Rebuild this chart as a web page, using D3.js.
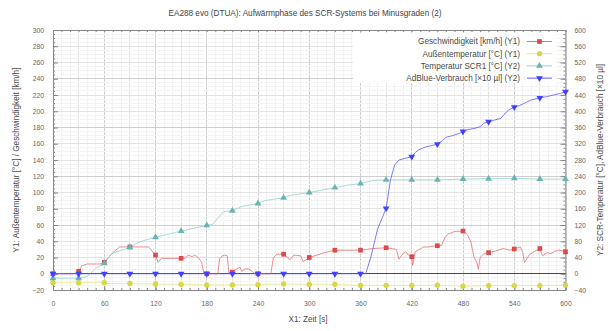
<!DOCTYPE html>
<html>
<head>
<meta charset="utf-8">
<script src="https://cdn.jsdelivr.net/npm/d3@7"></script>
<style>
  html, body { margin: 0; padding: 0; background: #fff; }
  svg { display: block; font-family: "Liberation Sans", Arial, sans-serif; }
</style>
</head>
<body>
<svg id="chart" width="611" height="331"></svg>
<script>
// Time axis ticks [s]
const xTicks = [0, 60, 120, 180, 240, 300, 360, 420, 480, 540, 600];
const y1Ticks = [-20, 0, 20, 40, 60, 80, 100, 120, 140, 160, 180, 200, 220, 240, 260, 280, 300];
const y2Ticks = [-40, 0, 40, 80, 120, 160, 200, 240, 280, 320, 360, 400, 440, 480, 520, 560, 600];

// Geschwindigkeit [km/h] (Y1): [t, v]
const speed = [
  [0,0],[28,0],[30,3],[34,10],[40,12],[55,12],[60,14],[65,20],[70,26],[78,33],[90,33],[112,33],
  [116,28],[120,23],[123,14],[127,19],[150,19],[155,19],[158,23],[163,21],[166,23],[170,20],
  [174,14],[177,0],[180,0],[193,0],[195,18],[198,22],[201,23],[204,22],[206,0],[210,2],[213,5],
  [217,7],[219,8],[221,3],[225,6],[229,6],[233,3],[236,0],[240,0],[255,0],[258,20],[262,24],
  [270,24],[275,20],[277,17],[282,23],[290,22],[293,15],[296,17],[300,20],[309,23],[318,26],
  [330,29],[344,29],[360,29],[374,31],[390,32],[402,30],[405,18],[410,25],[413,27],[416,23],
  [420,21],[421,10],[424,27],[434,33],[440,33],[450,34.5],[455,35],[459,45],[463,49],[470,52],
  [480,52.6],[485,48],[489,40],[493,20],[496,15],[498,5.5],[500,20],[504,24],[510,26],[518,28],
  [527,31],[535,29],[540,30.5],[547,33],[550,26],[552,14],[558,24],[570,31],[573,22],[578,26],
  [583,25],[588,28],[593,29],[600,27]
];

// Außentemperatur [°C] (Y1)
const outside = [
  [0,-11],[30,-11],[60,-11],[62,-12],[90,-12],[120,-12.6],[150,-13],[180,-13.7],[210,-13.7],
  [240,-13.5],[270,-12.5],[300,-13],[330,-13],[360,-14.2],[390,-14.2],[420,-14.2],[450,-14],
  [480,-15.3],[510,-14.6],[540,-14.6],[570,-14.6],[600,-14]
];

// Temperatur SCR1 [°C] (Y2)
const scr = [
  [0,-11],[30,-11],[40,-7],[50,13],[60,26],[69,50],[90,65],[102,79],[120,90],[150,105],[180,119],
  [187,122],[194,140],[200,153],[210,155],[220,165],[240,173],[248,180],[270,187],[276,192],
  [300,200],[330,212],[345,218],[360,222],[375,230],[390,231],[420,231],[450,231],[480,233],
  [510,234],[540,235],[570,233],[600,233]
];

// AdBlue-Verbrauch [×10 µl] (Y2)
const adblue = [
  [0,0],[30,0],[60,0],[90,0],[120,0],[150,0],[180,0],[210,0],[240,0],[270,0],[300,0],[330,0],
  [360,0],[366,0],[372,40],[380,110],[390,161],[395,230],[400,268],[405,280],[412,284],[420,288],
  [424,298],[428,305],[436,312],[444,316],[450,319],[456,328],[460,336],[468,340],[476,346],
  [480,350],[486,355],[494,358],[500,362],[504,370],[510,374],[516,378],[524,382],[528,392],
  [534,404],[540,410],[546,414],[552,420],[560,428],[570,433],[578,436],[586,440],[594,444],[600,448]
];

const legendLabels = [
  "Geschwindigkeit [km/h] (Y1)",
  "Außentemperatur [°C] (Y1)",
  "Temperatur SCR1 [°C] (Y2)",
  "AdBlue-Verbrauch [×10 µl] (Y2)"
];

const svg = d3.select("#chart");
const L = 53, R = 565.5, T = 30, B = 290;

const x = d3.scaleLinear().domain([0, 600]).range([L, R]);
const y1 = d3.scaleLinear().domain([-20, 300]).range([B, T]);
const y2 = d3.scaleLinear().domain([-40, 600]).range([B, T]);

// Grid
const grid = svg.append("g");
grid.selectAll(".vmin").data(d3.range(0, 601, 10)).join("line")
  .attr("x1", d => x(d)).attr("x2", d => x(d)).attr("y1", T).attr("y2", B)
  .attr("stroke", d => d % 60 === 0 ? "#cfcfcf" : (d % 30 === 0 ? "#e4e4e4" : "#f2f2f2"))
  .attr("stroke-width", 1).attr("shape-rendering", "crispEdges");
grid.selectAll(".hmin").data(d3.range(-20, 301, 5)).join("line")
  .attr("x1", L).attr("x2", R).attr("y1", d => y1(d)).attr("y2", d => y1(d))
  .attr("stroke", d => d % 60 === 0 ? "#cfcfcf" : (d % 20 === 0 ? "#e2e2e2" : "#f4f4f4"))
  .attr("stroke-width", 1).attr("shape-rendering", "crispEdges");

// Zero line
svg.append("line").attr("x1", L).attr("x2", R).attr("y1", y1(0)).attr("y2", y1(0))
  .attr("stroke", "#44445e").attr("stroke-width", 1).attr("shape-rendering", "crispEdges");

// Axes
const tickStyle = g => {
  g.select(".domain").attr("stroke", "#888");
  g.selectAll(".tick line").attr("stroke", "#888");
  g.selectAll(".tick text").attr("fill", "#666").attr("font-size", "6.8px");
};

svg.append("g").attr("transform", `translate(0,${B})`)
  .call(d3.axisBottom(x).tickValues(xTicks).tickSize(-4).tickPadding(11))
  .call(tickStyle);
svg.append("g").attr("transform", `translate(0,${B})`)
  .call(d3.axisBottom(x).tickValues(d3.range(0, 601, 10)).tickSize(-2).tickFormat(""))
  .call(g => g.select(".domain").remove())
  .call(g => g.selectAll("line").attr("stroke", "#888"));
svg.append("g").attr("transform", `translate(0,${T})`)
  .call(d3.axisTop(x).tickValues(d3.range(0, 601, 10)).tickSize(-2).tickFormat(""))
  .call(g => g.select(".domain").attr("stroke", "#888"))
  .call(g => g.selectAll("line").attr("stroke", "#888"));

svg.append("g").attr("transform", `translate(${L},0)`)
  .call(d3.axisLeft(y1).tickValues(y1Ticks).tickSize(-5).tickPadding(9))
  .call(tickStyle);
svg.append("g").attr("transform", `translate(${L},0)`)
  .call(d3.axisLeft(y1).tickValues(d3.range(-20, 301, 5)).tickSize(-2).tickFormat(""))
  .call(g => g.select(".domain").remove())
  .call(g => g.selectAll("line").attr("stroke", "#888"));

svg.append("g").attr("transform", `translate(${R},0)`)
  .call(d3.axisRight(y2).tickValues(y2Ticks).tickSize(-5).tickPadding(9))
  .call(tickStyle);
svg.append("g").attr("transform", `translate(${R},0)`)
  .call(d3.axisRight(y2).tickValues(d3.range(-40, 601, 10)).tickSize(-2).tickFormat(""))
  .call(g => g.select(".domain").remove())
  .call(g => g.selectAll("line").attr("stroke", "#888"));

// Series
const series = [
  { data: speed, y: y1, line: "#e87070", mark: "#dc4a4a", sym: d3.symbolSquare, size: 22 },
  { data: outside, y: y1, line: "#e6e690", mark: "#d6d646", sym: d3.symbolCircle, size: 22 },
  { data: scr, y: y2, line: "#94d0d0", mark: "#68b4b4", sym: d3.symbolTriangle, size: 20 },
  { data: adblue, y: y2, line: "#5a5aff", mark: "#4040ff", sym: d3.symbolTriangle, size: 20, down: true }
];

series.forEach(s => {
  const line = d3.line().x(d => x(d[0])).y(d => s.y(d[1]));
  svg.append("path").datum(s.data).attr("d", line)
    .attr("fill", "none").attr("stroke", s.line).attr("stroke-width", 0.8);
});
series.forEach(s => {
  svg.append("g").selectAll("path").data(s.data.filter(d => d[0] % 30 === 0)).join("path")
    .attr("d", d3.symbol().type(s.sym).size(s.size))
    .attr("transform", d => `translate(${x(d[0])},${s.y(d[1])})${s.down ? " rotate(180)" : ""}`)
    .attr("fill", s.mark);
});

// Legend
const lg = svg.append("g");
lg.append("rect").attr("x", 353).attr("y", 33).attr("width", 204).attr("height", 50).attr("fill", "#fff");
legendLabels.forEach((t, i) => {
  const s = series[i];
  const yy = 41.5 + i * 12.2;
  lg.append("text").attr("x", 520).attr("y", yy).attr("dy", "0.35em")
    .attr("text-anchor", "end").attr("font-size", "8.2px").attr("fill", "#4a4a4a").text(t);
  lg.append("line").attr("x1", 527).attr("x2", 552).attr("y1", yy).attr("y2", yy)
    .attr("stroke", s.line).attr("stroke-width", 1);
  lg.append("path").attr("d", d3.symbol().type(s.sym).size(s.size))
    .attr("transform", `translate(539.5,${yy})${s.down ? " rotate(180)" : ""}`).attr("fill", s.mark);
});

// Titles
svg.append("text").attr("x", 305).attr("y", 16).attr("text-anchor", "middle")
  .attr("font-size", "8.2px").attr("fill", "#444")
  .text("EA288 evo (DTUA): Aufwärmphase des SCR-Systems bei Minusgraden (2)");
svg.append("text").attr("x", 308).attr("y", 322).attr("text-anchor", "middle")
  .attr("font-size", "8.2px").attr("fill", "#4a4a4a").text("X1: Zeit [s]");
svg.append("text").attr("transform", `translate(19,${(T + B) / 2}) rotate(-90)`)
  .attr("text-anchor", "middle").attr("font-size", "8.2px").attr("fill", "#4a4a4a")
  .text("Y1: Außentemperatur [°C] / Geschwindigkeit [km/h]");
svg.append("text").attr("transform", `translate(603,${(T + B) / 2}) rotate(-90)`)
  .attr("text-anchor", "middle").attr("font-size", "8.2px").attr("fill", "#4a4a4a")
  .text("Y2: SCR-Temperatur [°C], AdBlue-Verbrauch [×10 µl]");
</script>
</body>
</html>
